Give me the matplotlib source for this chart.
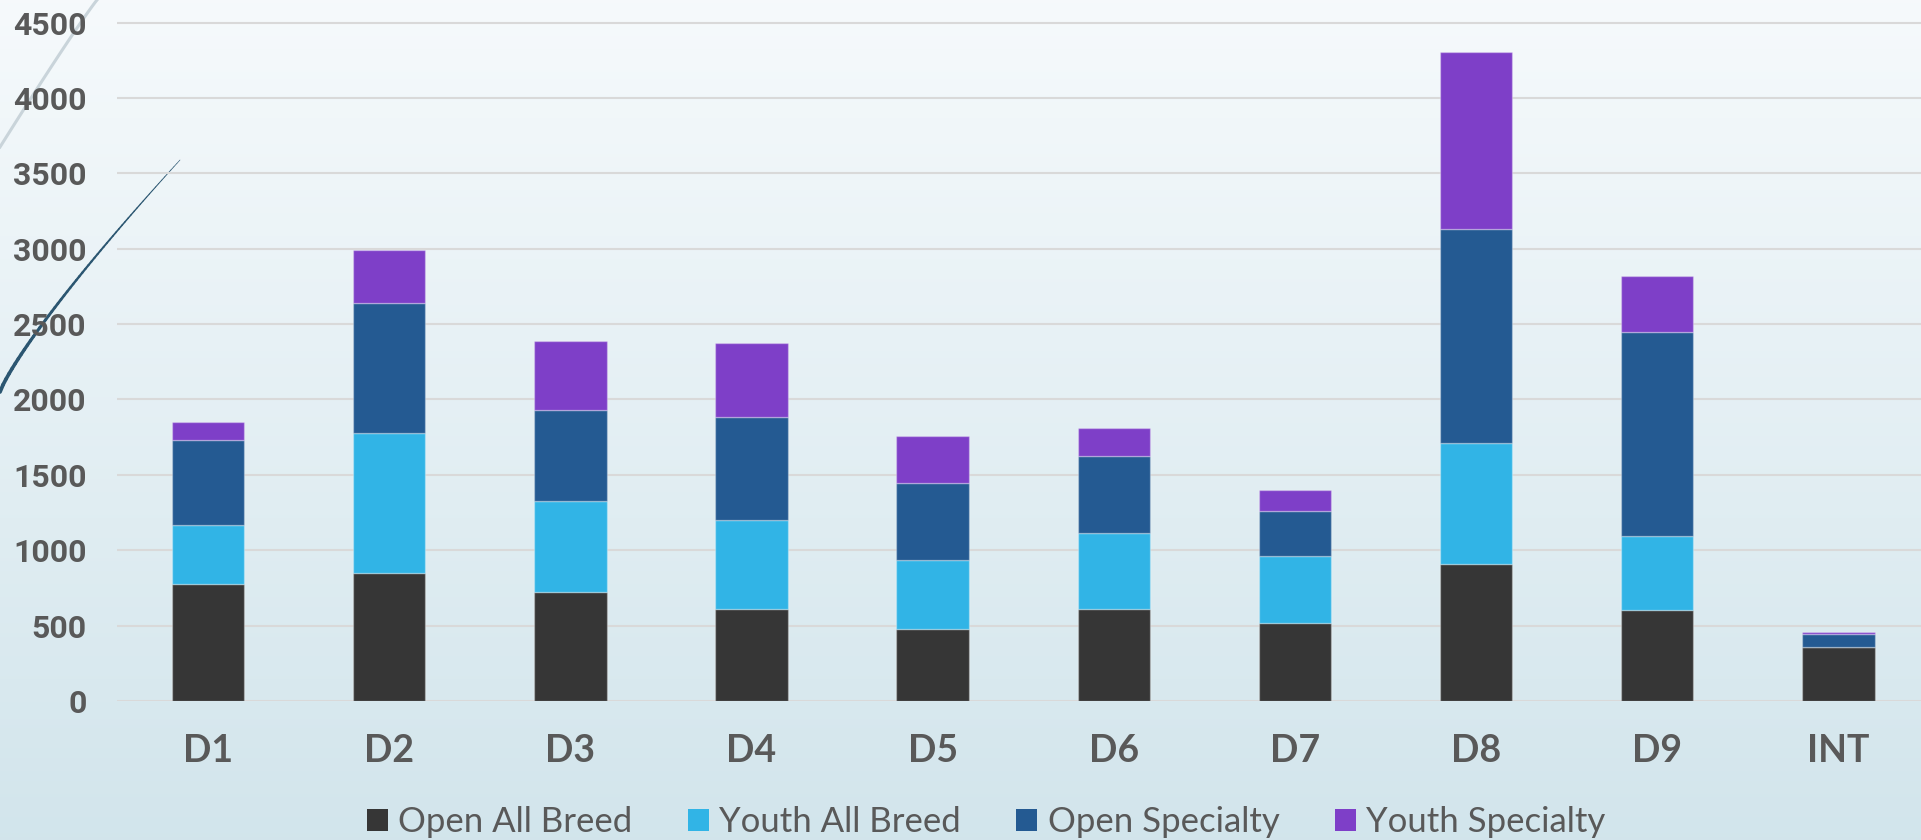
import numpy as np
import matplotlib.pyplot as plt
from matplotlib.patches import Patch

# districts along x
districts = ['D1', 'D2', 'D3', 'D4', 'D5', 'D6', 'D7', 'D8', 'D9', 'INT']

# entries per division
open_all_breed = [774, 851, 721, 608, 480, 608, 520, 909, 604, 356]
youth_all_breed = [396, 927, 608, 593, 455, 504, 440, 803, 489, 0]
open_specialty = [560, 865, 600, 681, 509, 511, 298, 1418, 1353, 91]
youth_specialty = [119, 350, 457, 491, 316, 186, 142, 1172, 371, 11]

series_names = ['Open All Breed', 'Youth All Breed', 'Open Specialty', 'Youth Specialty']
colors = ['#363636', '#31b4e6', '#245a92', '#7e3fc8']
yticks = [0, 500, 1000, 1500, 2000, 2500, 3000, 3500, 4000, 4500]

txt = '#595959'

fig = plt.figure(figsize=(19.21, 8.4), dpi=100)

# slide background gradient + decorative strokes
bg = fig.add_axes([0, 0, 1, 1], zorder=-2)
grad = np.linspace(0, 1, 256).reshape(-1, 1)
top = np.array([0.965, 0.980, 0.988])
bot = np.array([0.824, 0.898, 0.925])
img = top + (bot - top) * grad[:, :, None] * np.ones((1, 2, 1))
bg.imshow(img, aspect='auto', extent=[0, 1, 0, 1], origin='upper')
t = np.linspace(0, 1, 60)
gx = 0.0505 * t
gy = 1 - 0.175 * (1 - t) ** 1.05
bg.plot(gx, gy, color='#c9d4da', lw=2.2)
dx = 0.0937 * t
dy = (840 - 392) / 840 + (392 - 160) / 840 * t ** 0.85
for i in range(len(t) - 1):
    bg.plot(dx[i:i + 2], dy[i:i + 2], color='#2b5671', lw=2.3 * (1 - t[i]) + 0.4,
            solid_capstyle='round')
bg.set_xlim(0, 1)
bg.set_ylim(0, 1)
bg.axis('off')

ax = fig.add_axes([117.4 / 1921, 139 / 840, 1811.6 / 1921, 701 / 840])
ax.set_facecolor('none')

x = np.arange(len(districts))
bottom = np.zeros(len(districts))
for vals, name, c in zip([open_all_breed, youth_all_breed, open_specialty, youth_specialty],
                         series_names, colors):
    ax.bar(x, vals, width=0.4, bottom=bottom, color=c, label=name,
           edgecolor=(1, 1, 1, 0.3), linewidth=1.0, zorder=3)
    bottom += np.array(vals)

ax.set_xlim(-0.5, 9.5)
ax.set_ylim(0, 4650)
ax.set_yticks(yticks)
ax.yaxis.grid(True, color='#d9d9d9', lw=1.5, zorder=0)
ax.set_axisbelow(True)
for s in ax.spines.values():
    s.set_visible(False)
ax.tick_params(axis='both', length=0)
ax.tick_params(axis='y', pad=22)
ax.tick_params(axis='x', pad=24)
ax.set_xticks(x)
ax.set_xticklabels(districts)
for lab in ax.get_yticklabels():
    lab.set_fontfamily('Roboto')
    lab.set_fontweight('bold')
    lab.set_fontsize(23)
    lab.set_color(txt)
for lab in ax.get_xticklabels():
    lab.set_fontfamily('Lato')
    lab.set_fontweight('bold')
    lab.set_fontsize(27)
    lab.set_color(txt)

handles = [Patch(facecolor=c, edgecolor='none') for c in colors]
fig.legend(handles, series_names, loc='center', bbox_to_anchor=(986 / 1921, 18 / 840),
           ncol=4, frameon=False, handlelength=0.6, handleheight=0.6,
           handletextpad=0.3, columnspacing=1.6,
           prop={'family': 'Lato', 'size': 25}, labelcolor=txt)

fig.savefig('out.png', dpi=100)
